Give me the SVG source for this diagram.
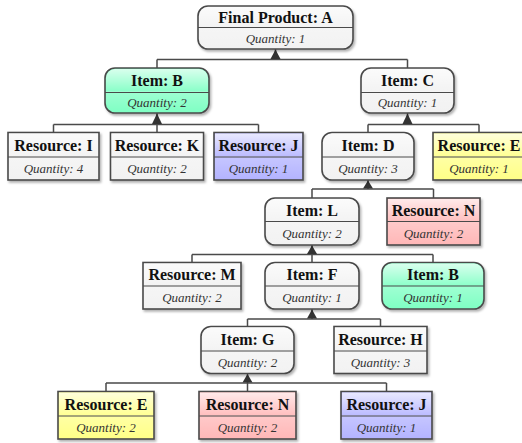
<svg xmlns="http://www.w3.org/2000/svg" width="522" height="443" viewBox="0 0 522 443">
<defs>
<style>
.box{stroke:#4a4a4a;stroke-width:1.6;filter:url(#sh)}
.div{stroke:#4a4a4a;stroke-width:1.2}
.gl{fill:url(#gloss);stroke:none}
.h{font-family:"Liberation Serif","Times New Roman",serif;font-weight:bold;font-size:16px;fill:#111;text-anchor:middle}
.q{font-family:"Liberation Serif","Times New Roman",serif;font-style:italic;font-size:13px;fill:#333;text-anchor:middle}
.w{fill:#f2f2f2}.g{fill:#80ffc4}.b{fill:#b4b4ff}.y{fill:#ffff88}.p{fill:#ffb8b8}
.c{fill:none;stroke:#4a4a4a;stroke-width:1.5}
.ar{fill:#333;stroke:none}
</style>
<linearGradient id="gloss" x1="0" y1="0" x2="0" y2="1">
<stop offset="0" stop-color="#fff" stop-opacity="0.7"/>
<stop offset="0.5" stop-color="#fff" stop-opacity="0.1"/>
<stop offset="0.5" stop-color="#fff" stop-opacity="0.25"/>
<stop offset="1" stop-color="#fff" stop-opacity="0"/>
</linearGradient>
<filter id="sh" x="-10%" y="-10%" width="125%" height="130%">
<feDropShadow dx="1.5" dy="2" stdDeviation="1.2" flood-color="#000" flood-opacity="0.3"/>
</filter>
</defs>

<g id="connectors">
<path class="c" d="M275.5 49V59.5M157 59.5H407.5M157 59.5V68M407.5 59.5V68"/>
<polygon class="ar" points="275.5,49.5 270.5,59 280.5,59"/>
<path class="c" d="M157 113V124.5M53.5 124.5H258.5M53.5 124.5V132.5M157 124.5V132.5M258.5 124.5V132.5"/>
<polygon class="ar" points="157,113.5 152,124 162,124"/>
<path class="c" d="M407.5 113V124.5M368 124.5H479M368 124.5V132.5M479 124.5V132.5"/>
<polygon class="ar" points="407.5,113.5 402.5,124 412.5,124"/>
<path class="c" d="M368 180V189M312 189H433.5M312 189V198M433.5 189V198"/>
<polygon class="ar" points="368,180.5 363,188.5 373,188.5"/>
<path class="c" d="M312 245V254.5M192 254.5H433M192 254.5V262.5M312 254.5V262.5M433 254.5V262.5"/>
<polygon class="ar" points="312,245.5 307,254 317,254"/>
<path class="c" d="M312 309V319M247.5 319H380.5M247.5 319V326.5M380.5 319V326.5"/>
<polygon class="ar" points="312,309.5 307,318.5 317,318.5"/>
<path class="c" d="M247.5 373.5V383M106 383H386.5M106 383V391.5M247.5 383V391.5M386.5 383V391.5"/>
<polygon class="ar" points="247.5,374 242.5,382.5 252.5,382.5"/>
</g>

<g id="node-A">
<rect class="box w" x="198" y="6" width="155" height="43" rx="10"/>
<rect class="gl" x="199" y="7" width="153" height="41" rx="9"/>
<line class="div" x1="198" y1="27.5" x2="353" y2="27.5"/>
<text class="h" x="275.5" y="22.5">Final Product: A</text>
<text class="q" x="275.5" y="42.5">Quantity: 1</text>
</g>

<g id="node-B">
<rect class="box g" x="105" y="68" width="104" height="45" rx="10"/>
<rect class="gl" x="106" y="69" width="102" height="43" rx="9"/>
<line class="div" x1="105" y1="92.5" x2="209" y2="92.5"/>
<text class="h" x="157" y="86">Item: B</text>
<text class="q" x="157" y="107">Quantity: 2</text>
</g>

<g id="node-C">
<rect class="box w" x="361" y="68" width="93" height="45" rx="10"/>
<rect class="gl" x="362" y="69" width="91" height="43" rx="9"/>
<line class="div" x1="361" y1="92.5" x2="454" y2="92.5"/>
<text class="h" x="407.5" y="86">Item: C</text>
<text class="q" x="407.5" y="107">Quantity: 1</text>
</g>

<g id="node-I">
<rect class="box w" x="8" y="132.5" width="91" height="47.5"/>
<rect class="gl" x="9" y="133.5" width="89" height="45.5"/>
<line class="div" x1="8" y1="157" x2="99" y2="157"/>
<text class="h" x="53.5" y="150.5">Resource: I</text>
<text class="q" x="53.5" y="173">Quantity: 4</text>
</g>

<g id="node-K">
<rect class="box w" x="110.5" y="132.5" width="93" height="47.5"/>
<rect class="gl" x="111.5" y="133.5" width="91" height="45.5"/>
<line class="div" x1="110.5" y1="157" x2="203.5" y2="157"/>
<text class="h" x="157" y="150.5">Resource: K</text>
<text class="q" x="157" y="173">Quantity: 2</text>
</g>

<g id="node-J">
<rect class="box b" x="214" y="132.5" width="89" height="47.5"/>
<rect class="gl" x="215" y="133.5" width="87" height="45.5"/>
<line class="div" x1="214" y1="157" x2="303" y2="157"/>
<text class="h" x="258.5" y="150.5">Resource: J</text>
<text class="q" x="258.5" y="173">Quantity: 1</text>
</g>

<g id="node-D">
<rect class="box w" x="322" y="132.5" width="92" height="47.5" rx="10"/>
<rect class="gl" x="323" y="133.5" width="90" height="45.5" rx="9"/>
<line class="div" x1="322" y1="157" x2="414" y2="157"/>
<text class="h" x="368" y="150.5">Item: D</text>
<text class="q" x="368" y="173">Quantity: 3</text>
</g>

<g id="node-E">
<rect class="box y" x="433" y="132.5" width="92" height="47.5"/>
<rect class="gl" x="434" y="133.5" width="90" height="45.5"/>
<line class="div" x1="433" y1="157" x2="525" y2="157"/>
<text class="h" x="479" y="150.5">Resource: E</text>
<text class="q" x="479" y="173">Quantity: 1</text>
</g>

<g id="node-L">
<rect class="box w" x="265" y="198" width="94" height="47" rx="10"/>
<rect class="gl" x="266" y="199" width="92" height="45" rx="9"/>
<line class="div" x1="265" y1="221.5" x2="359" y2="221.5"/>
<text class="h" x="312" y="215.5">Item: L</text>
<text class="q" x="312" y="238">Quantity: 2</text>
</g>

<g id="node-N">
<rect class="box p" x="387" y="198" width="93" height="47"/>
<rect class="gl" x="388" y="199" width="91" height="45"/>
<line class="div" x1="387" y1="221.5" x2="480" y2="221.5"/>
<text class="h" x="433.5" y="215.5">Resource: N</text>
<text class="q" x="433.5" y="238">Quantity: 2</text>
</g>

<g id="node-M">
<rect class="box w" x="143" y="262.5" width="98" height="46.5"/>
<rect class="gl" x="144" y="263.5" width="96" height="44.5"/>
<line class="div" x1="143" y1="286" x2="241" y2="286"/>
<text class="h" x="192" y="280">Resource: M</text>
<text class="q" x="192" y="302">Quantity: 2</text>
</g>

<g id="node-F">
<rect class="box w" x="265" y="262.5" width="94" height="46.5" rx="10"/>
<rect class="gl" x="266" y="263.5" width="92" height="44.5" rx="9"/>
<line class="div" x1="265" y1="286" x2="359" y2="286"/>
<text class="h" x="312" y="280">Item: F</text>
<text class="q" x="312" y="302">Quantity: 1</text>
</g>

<g id="node-B2">
<rect class="box g" x="382" y="262.5" width="102" height="46.5" rx="10"/>
<rect class="gl" x="383" y="263.5" width="100" height="44.5" rx="9"/>
<line class="div" x1="382" y1="286" x2="484" y2="286"/>
<text class="h" x="433" y="280">Item: B</text>
<text class="q" x="433" y="302">Quantity: 1</text>
</g>

<g id="node-G">
<rect class="box w" x="201" y="326.5" width="93" height="47" rx="10"/>
<rect class="gl" x="202" y="327.5" width="91" height="45" rx="9"/>
<line class="div" x1="201" y1="351" x2="294" y2="351"/>
<text class="h" x="247.5" y="344.5">Item: G</text>
<text class="q" x="247.5" y="367">Quantity: 2</text>
</g>

<g id="node-H">
<rect class="box w" x="334" y="326.5" width="93" height="47"/>
<rect class="gl" x="335" y="327.5" width="91" height="45"/>
<line class="div" x1="334" y1="351" x2="427" y2="351"/>
<text class="h" x="380.5" y="344.5">Resource: H</text>
<text class="q" x="380.5" y="367">Quantity: 3</text>
</g>

<g id="node-E2">
<rect class="box y" x="58" y="391.5" width="96" height="47.5"/>
<rect class="gl" x="59" y="392.5" width="94" height="45.5"/>
<line class="div" x1="58" y1="416" x2="154" y2="416"/>
<text class="h" x="106" y="409.5">Resource: E</text>
<text class="q" x="106" y="432">Quantity: 2</text>
</g>

<g id="node-N2">
<rect class="box p" x="199" y="391.5" width="97" height="47.5"/>
<rect class="gl" x="200" y="392.5" width="95" height="45.5"/>
<line class="div" x1="199" y1="416" x2="296" y2="416"/>
<text class="h" x="247.5" y="409.5">Resource: N</text>
<text class="q" x="247.5" y="432">Quantity: 2</text>
</g>

<g id="node-J2">
<rect class="box b" x="341" y="391.5" width="91" height="47.5"/>
<rect class="gl" x="342" y="392.5" width="89" height="45.5"/>
<line class="div" x1="341" y1="416" x2="432" y2="416"/>
<text class="h" x="386.5" y="409.5">Resource: J</text>
<text class="q" x="386.5" y="432">Quantity: 1</text>
</g>
</svg>
